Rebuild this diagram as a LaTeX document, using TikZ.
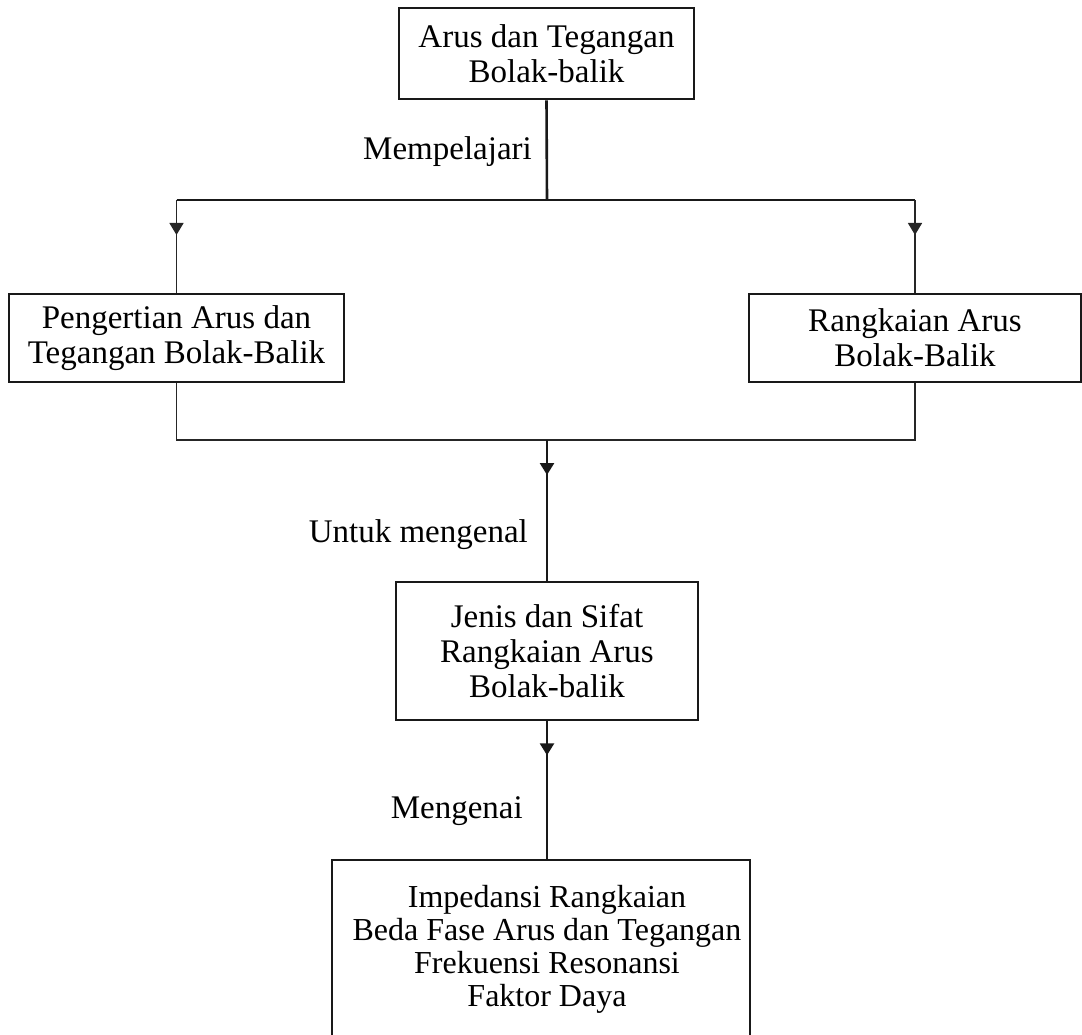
\documentclass[tikz,border=0pt]{standalone}
\usepackage{fontspec}
\setmainfont{Liberation Serif}
\usetikzlibrary{arrows.meta,decorations.markings}
\tikzset{
  boxnode/.style={draw=black!90, line width=2.6pt, align=center, inner sep=0pt,
    font=\fontsize{33}{35}\selectfont},
  lbl/.style={inner sep=0pt, font=\fontsize{33}{35}\selectfont},
  thickline/.style={draw=black!90, line width=2.6pt},
  thinline/.style={draw=black!85, line width=1.5pt},
  midarrow/.style={postaction={decorate}, decoration={markings,
    mark=at position #1 with {\arrow{Triangle[width=14pt,length=12pt]}}}},
}
\begin{document}
\begin{tikzpicture}[x=1pt,y=-1pt]
\useasboundingbox (0,0) rectangle (1082,1035);
% boxes
\node[boxnode, minimum width=295pt, minimum height=91pt] (top) at (546.5,53.5)
  {Arus dan Tegangan\\Bolak-balik};
\node[boxnode, minimum width=335pt, minimum height=88pt] (left) at (176.5,338)
  {Pengertian Arus dan\\Tegangan Bolak-Balik};
\node[boxnode, minimum width=332pt, minimum height=88pt] (right) at (915,338)
  {Rangkaian Arus\\Bolak-Balik};
\node[boxnode, minimum width=302pt, minimum height=138pt] (mid) at (547,651)
  {Jenis dan Sifat\\Rangkaian Arus\\Bolak-balik};
\node[lbl, align=center, font=\fontsize{32}{33}\selectfont] (bot) at (547,949)
  {Impedansi Rangkaian\\Beda Fase Arus dan Tegangan\\Frekuensi Resonansi\\Faktor Daya};
\draw[thickline] (332,1045) |- (750,860) -- (750,1045);
\coordinate (bottop) at (547,860);
% junctions
\coordinate (j1) at (547,200);
\coordinate (lj) at (176.5,200);
\coordinate (rj) at (915,200);
\coordinate (lj2) at (176.5,440);
\coordinate (rj2) at (915,440);
\coordinate (j2) at (547,440);
% connectors
\draw[thickline] (top.south) -- (j1);
\draw[thickline] (lj) -- (rj);
\draw[thinline, midarrow=35pt] (lj) -- (left.north);
\draw[thinline, midarrow=35pt] (rj) -- (right.north);
\draw[thinline] (left.south) -- (lj2) -- (rj2) -- (right.south);
\draw[thickline, midarrow=35pt] (j2) -- (mid.north);
\draw[thickline, midarrow=34pt] (mid.south) -- (bottop);
% labels
\node[lbl, anchor=base east] (l1) at (532,160) {Mempelajari};
\node[lbl, anchor=base east] (l2) at (528,542) {Untuk mengenal};
\node[lbl, anchor=base east] (l3) at (523,818) {Mengenai};
\end{tikzpicture}
\end{document}
